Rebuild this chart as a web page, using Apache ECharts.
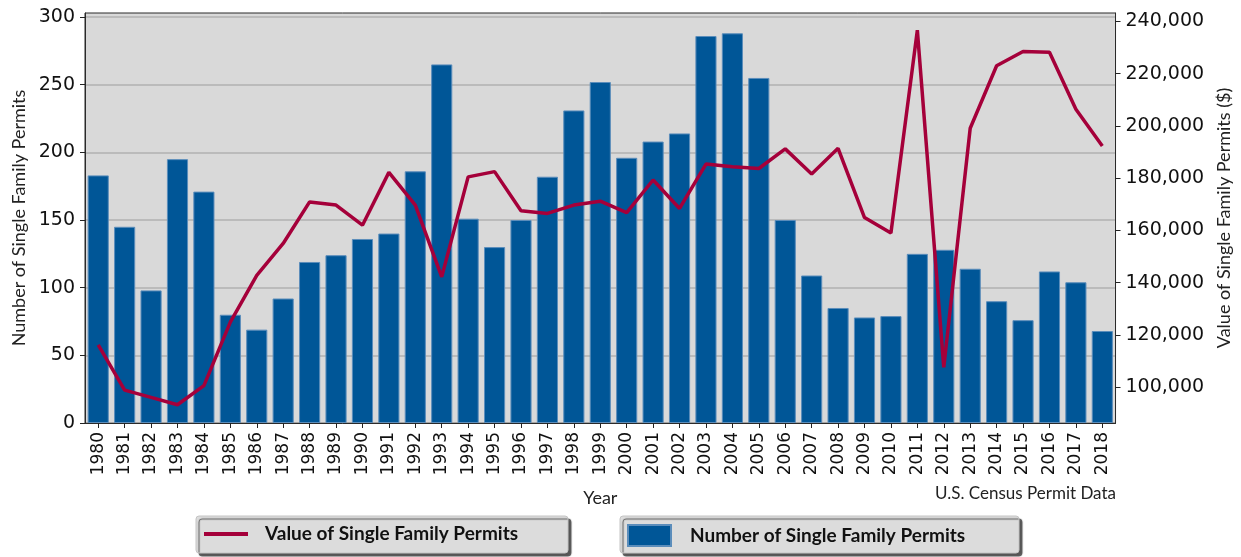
<!DOCTYPE html>
<html>
<head>
<meta charset="utf-8">
<script src="https://cdn.jsdelivr.net/npm/echarts@6/dist/echarts.min.js"></script>
<style>
  html, body { margin: 0; padding: 0; background: #ffffff; }
  #chart { width: 1241px; height: 557px; }
</style>
</head>
<body>
<div id="chart"></div>
<script>
// Single family building permits, 1980-2018
const years = ['1980','1981','1982','1983','1984','1985','1986','1987','1988','1989',
  '1990','1991','1992','1993','1994','1995','1996','1997','1998','1999',
  '2000','2001','2002','2003','2004','2005','2006','2007','2008','2009',
  '2010','2011','2012','2013','2014','2015','2016','2017','2018'];

// Number of single family permits issued each year
const permitCounts = [183, 145, 98, 195, 171, 80, 69, 92, 119, 124,
  136, 140, 186, 265, 151, 130, 150, 182, 231, 252,
  196, 208, 214, 286, 288, 255, 150, 109, 85, 78,
  79, 125, 128, 114, 90, 76, 112, 104, 68];

// Average value of a single family permit ($)
const permitValues = [116200, 98900, 96100, 93300, 100600, 124900, 142800, 155000, 170900, 169700,
  162000, 182200, 169700, 142200, 180500, 182500, 167500, 166500, 169700, 171200,
  166800, 179300, 168400, 185400, 184400, 183700, 191200, 181600, 191400, 164900,
  159000, 236600, 107600, 199100, 223000, 228500, 228200, 206400, 192300];

// Tick labels
const countTicks = [0, 50, 100, 150, 200, 250, 300];
const valueTicks = [100000, 120000, 140000, 160000, 180000, 200000, 220000, 240000];

const BAR_NAME = 'Number of Single Family Permits';
const LINE_NAME = 'Value of Single Family Permits';
const SOURCE_NOTE = 'U.S. Census Permit Data';

const BAR_COLOR = '#005697';
const LINE_COLOR = '#a5003a';

const tickFont = 'DejaVu Sans';
const titleFont = 'Lato';

const chart = echarts.init(document.getElementById('chart'), null, { renderer: 'canvas' });

const fmtThousands = v => String(Math.round(v)).replace(/\B(?=(\d{3})+(?!\d))/g, ',');

const legendText = { fontFamily: titleFont, fontWeight: 'bold', fontSize: 19, color: '#111' };

chart.setOption({
  animation: false,
  backgroundColor: '#ffffff',
  grid: {
    left: 85, right: 124, top: 13, bottom: 134,
    show: true,
    backgroundColor: '#d9d9d9',
    borderColor: '#2a2a2a',
    borderWidth: 1
  },
  graphic: [
    {
      type: 'rect', z: 0,
      shape: { x: 196, y: 516, width: 372, height: 37, r: 3 },
      style: { fill: '#dcdcdc', stroke: '#c4c4c4', lineWidth: 1,
        shadowColor: 'rgba(70,70,70,0.9)', shadowOffsetX: 3, shadowOffsetY: 3, shadowBlur: 1 }
    },
    {
      type: 'rect', z: 0,
      shape: { x: 620, y: 516, width: 399, height: 37, r: 3 },
      style: { fill: '#dcdcdc', stroke: '#c4c4c4', lineWidth: 1,
        shadowColor: 'rgba(70,70,70,0.9)', shadowOffsetX: 3, shadowOffsetY: 3, shadowBlur: 1 }
    },
    {
      type: 'text', z: 5,
      right: 1241 - 1116, top: 485,
      style: { text: SOURCE_NOTE, font: '17px ' + titleFont, fill: '#222', textAlign: 'right' }
    }
  ],
  legend: [
    {
      data: [{ name: LINE_NAME, icon: 'rect', itemStyle: { color: LINE_COLOR } }],
      left: 204, top: 523,
      itemWidth: 44, itemHeight: 4,
      padding: [0, 0, 0, 0],
      textStyle: Object.assign({}, legendText, { padding: [0, 0, 0, 12], lineHeight: 22 })
    },
    {
      data: [{ name: BAR_NAME, icon: 'rect' }],
      left: 627, top: 524,
      itemWidth: 43, itemHeight: 21,
      padding: 0,
      textStyle: Object.assign({}, legendText, { padding: [0, 0, 0, 14] })
    }
  ],
  xAxis: {
    type: 'category',
    data: years,
    boundaryGap: true,
    name: 'Year',
    nameLocation: 'middle',
    nameGap: 66,
    nameTextStyle: { fontFamily: titleFont, fontSize: 18, color: '#222' },
    axisLine: { show: true, lineStyle: { color: '#2a2a2a', width: 1 } },
    axisTick: { show: true, alignWithLabel: true, interval: 0, length: 5, lineStyle: { color: '#222' } },
    axisLabel: { interval: 0, rotate: 90, margin: 9, fontFamily: tickFont, fontSize: 17, color: '#111' },
    splitLine: { show: false }
  },
  yAxis: [
    {
      type: 'value',
      min: 0, max: 303, interval: 50,
      position: 'left',
      name: 'Number of Single Family Permits',
      nameLocation: 'middle',
      nameRotate: 90,
      nameGap: 56,
      nameTextStyle: { fontFamily: titleFont, fontSize: 18, color: '#222' },
      axisLine: { show: true, lineStyle: { color: '#2a2a2a', width: 1 } },
      axisTick: { show: true, length: 5, lineStyle: { color: '#222' }, customValues: countTicks },
      axisLabel: { fontFamily: tickFont, fontSize: 19, color: '#111', margin: 10, customValues: countTicks },
      splitLine: { show: true, lineStyle: { color: '#b0b0b0', width: 1.5 } }
    },
    {
      type: 'value',
      min: 86300, max: 243200,
      position: 'right',
      name: 'Value of Single Family Permits ($)',
      nameLocation: 'middle',
      nameRotate: 90,
      nameGap: 96,
      nameTextStyle: { fontFamily: titleFont, fontSize: 18, color: '#222' },
      axisLine: { show: true, lineStyle: { color: '#2a2a2a', width: 1 } },
      axisTick: { show: true, length: 5, lineStyle: { color: '#222' }, customValues: valueTicks },
      axisLabel: { fontFamily: tickFont, fontSize: 19, color: '#111', margin: 10,
        customValues: valueTicks, formatter: fmtThousands },
      splitLine: { show: false }
    }
  ],
  series: [
    {
      name: BAR_NAME,
      type: 'bar',
      yAxisIndex: 0,
      data: permitCounts,
      barWidth: '80%',
      itemStyle: { color: BAR_COLOR, borderColor: '#5b8dbb', borderWidth: 1 },
      z: 2
    },
    {
      name: LINE_NAME,
      type: 'line',
      yAxisIndex: 1,
      data: permitValues,
      symbol: 'none',
      lineStyle: { color: LINE_COLOR, width: 3.5 },
      itemStyle: { color: LINE_COLOR },
      z: 3
    }
  ]
});
</script>
</body>
</html>
